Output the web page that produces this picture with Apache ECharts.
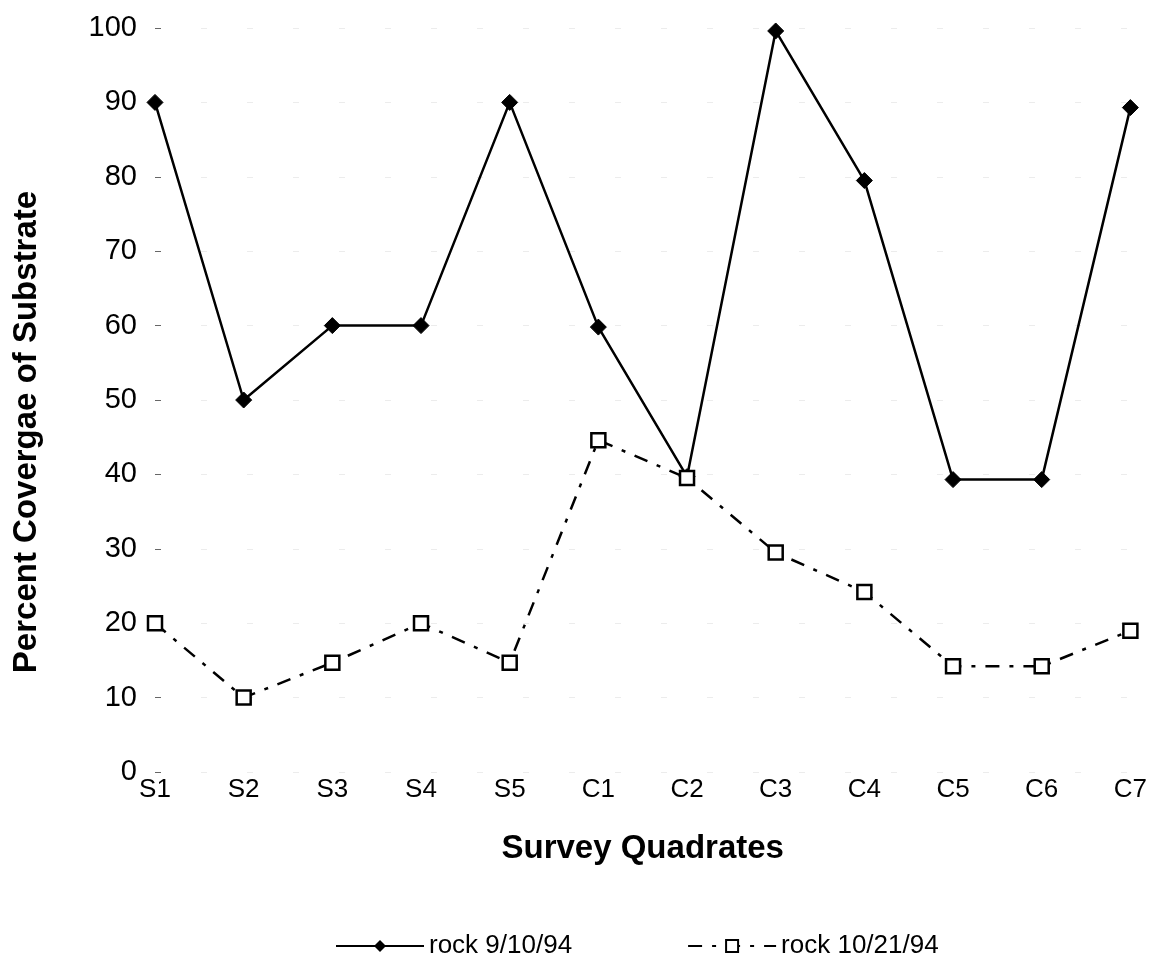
<!DOCTYPE html>
<html><head><meta charset="utf-8">
<script src="https://cdn.jsdelivr.net/npm/echarts@6/dist/echarts.min.js"></script>
<style>html,body{margin:0;padding:0;background:#fff}#c{width:1150px;height:962px}</style>
</head><body><div id="c"></div>
<script>
const categories = ['S1','S2','S3','S4','S5','C1','C2','C3','C4','C5','C6','C7'];
const rockSep = [90, 50, 60, 60, 90, 59.8, 39.7, 99.6, 79.5, 39.3, 39.3, 89.3];
const rockOct = [20, 10, 14.7, 20, 14.7, 44.6, 39.5, 29.5, 24.2, 14.2, 14.2, 19];
const seriesNames = ['rock 9/10/94', 'rock 10/21/94'];

const chart = echarts.init(document.getElementById('c'), null, {renderer:'canvas'});
const font = 'Liberation Sans, Arial, sans-serif';
chart.setOption({
  animation: false,
  backgroundColor: '#fff',
  grid: {left: 155, right: 17, top: 28, bottom: 190, containLabel: false},
  xAxis: {
    type: 'category', data: categories, boundaryGap: false,
    axisLine: {show: false}, axisTick: {show: false},
    axisLabel: {color: '#000', fontFamily: font, fontSize: 26, margin: 5},
    name: 'Survey Quadrates', nameLocation: 'middle', nameGap: 60,
    nameTextStyle: {color: '#000', fontFamily: font, fontSize: 33, fontWeight: 'bold'},
    splitLine: {show: false}
  },
  yAxis: {
    type: 'value', min: 0, max: 100, interval: 10,
    axisLine: {show: false},
    axisTick: {show: true, inside: true, length: 6, lineStyle: {color: '#666', width: 1}},
    axisLabel: {color: '#000', fontFamily: font, fontSize: 29, margin: 18},
    name: 'Percent Covergae of Substrate', nameLocation: 'middle', nameGap: 112,
    nameTextStyle: {color: '#000', fontFamily: font, fontSize: 33, fontWeight: 'bold', padding: [0, 64, 0, 0]},
    splitLine: {show: true, lineStyle: {color: '#ececec', type: [6, 40], width: 1}}
  },
  legend: {
    top: 928, left: 330, itemGap: 115, itemWidth: 88, itemHeight: 15,
    textStyle: {color: '#000', fontFamily: font, fontSize: 26},
    data: seriesNames
  },
  series: [
    {
      name: seriesNames[0], type: 'line', data: rockSep,
      symbol: 'diamond', symbolSize: 16,
      lineStyle: {color: '#000', width: 2.5},
      itemStyle: {color: '#000', borderColor: '#000'}
    },
    {
      name: seriesNames[1], type: 'line', data: rockOct,
      symbol: 'rect', symbolSize: 14,
      lineStyle: {color: '#000', width: 2.5, type: [14, 10, 4, 10]},
      itemStyle: {color: '#fff', borderColor: '#000', borderWidth: 2.5}
    }
  ]
});
</script></body></html>
